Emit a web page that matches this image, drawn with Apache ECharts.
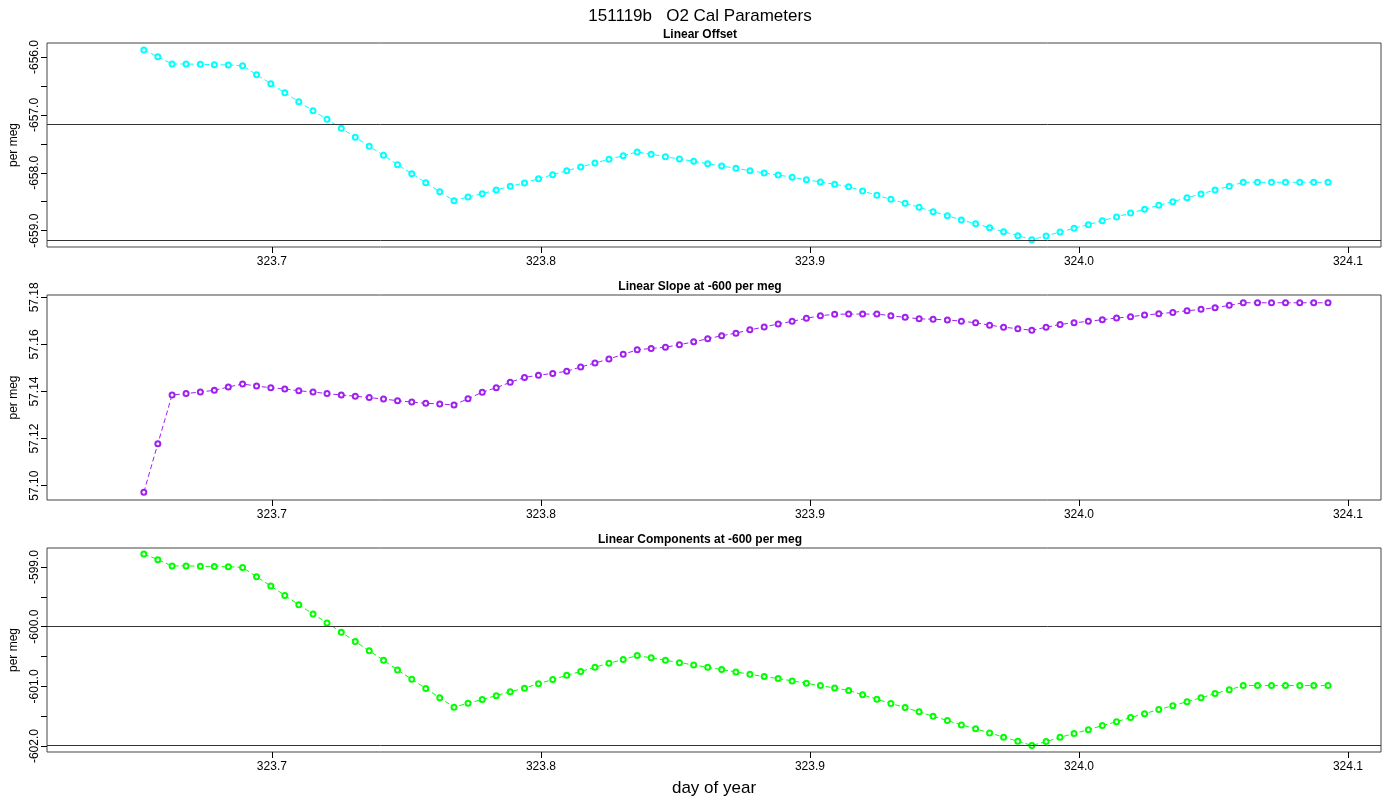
<!DOCTYPE html>
<html><head><meta charset="utf-8">
<script src="https://cdn.jsdelivr.net/npm/echarts@6/dist/echarts.min.js"></script>
<style>html,body{margin:0;padding:0;background:#fff}#c{width:1400px;height:800px}</style>
</head><body><div id="c"></div>
<script>
const days = [323.6524,323.6576,323.6629,323.6681,323.6734,323.6786,323.6838,323.6891,323.6943,323.6996,
323.7048,323.7100,323.7153,323.7205,323.7258,323.7310,323.7362,323.7415,323.7467,323.7520,
323.7572,323.7624,323.7677,323.7729,323.7782,323.7834,323.7886,323.7939,323.7991,323.8044,
323.8096,323.8148,323.8201,323.8253,323.8306,323.8358,323.8410,323.8463,323.8515,323.8568,
323.8620,323.8672,323.8725,323.8777,323.8830,323.8882,323.8934,323.8987,323.9039,323.9092,
323.9144,323.9196,323.9249,323.9301,323.9354,323.9406,323.9458,323.9511,323.9563,323.9616,
323.9668,323.9720,323.9773,323.9825,323.9878,323.9930,323.9982,324.0035,324.0087,324.0140,
324.0192,324.0244,324.0297,324.0349,324.0402,324.0454,324.0506,324.0559,324.0611,324.0664,
324.0716,324.0768,324.0821,324.0873,324.0926];
const linearOffset = [-655.879,-655.995,-656.121,-656.121,-656.126,-656.133,-656.138,-656.150,-656.306,-656.461,
-656.617,-656.772,-656.927,-657.076,-657.231,-657.387,-657.542,-657.698,-657.860,-658.016,
-658.171,-658.326,-658.482,-658.418,-658.361,-658.297,-658.233,-658.176,-658.102,-658.033,
-657.964,-657.900,-657.831,-657.767,-657.705,-657.641,-657.680,-657.722,-657.762,-657.801,
-657.843,-657.883,-657.922,-657.964,-658.003,-658.038,-658.078,-658.119,-658.159,-658.199,
-658.240,-658.314,-658.389,-658.458,-658.527,-658.596,-658.672,-658.741,-658.815,-658.879,
-658.948,-659.017,-659.086,-659.155,-659.092,-659.022,-658.959,-658.896,-658.827,-658.763,
-658.694,-658.630,-658.561,-658.499,-658.430,-658.366,-658.297,-658.233,-658.164,-658.164,
-658.164,-658.164,-658.164,-658.164,-658.164];
const linearSlope = [57.0972,57.1178,57.1385,57.1391,57.1398,57.1405,57.1419,57.1432,57.1423,57.1416,
57.1411,57.1403,57.1398,57.1391,57.1385,57.1380,57.1374,57.1368,57.1361,57.1355,
57.1350,57.1347,57.1343,57.1369,57.1397,57.1416,57.1439,57.1460,57.1469,57.1477,
57.1486,57.1504,57.1521,57.1538,57.1558,57.1577,57.1583,57.1588,57.1599,57.1611,
57.1624,57.1637,57.1648,57.1662,57.1674,57.1687,57.1698,57.1711,57.1722,57.1728,
57.1729,57.1729,57.1729,57.1722,57.1715,57.1709,57.1707,57.1704,57.1699,57.1692,
57.1682,57.1673,57.1667,57.1660,57.1673,57.1685,57.1692,57.1698,57.1705,57.1712,
57.1718,57.1725,57.1730,57.1736,57.1743,57.1749,57.1756,57.1766,57.1777,57.1777,
57.1777,57.1777,57.1777,57.1777,57.1777];
const linearComponents = [-598.782,-598.877,-598.982,-598.982,-598.986,-598.992,-598.996,-599.007,-599.164,-599.319,
-599.476,-599.632,-599.787,-599.937,-600.092,-600.249,-600.405,-600.561,-600.724,-600.880,
-601.036,-601.191,-601.348,-601.281,-601.221,-601.155,-601.089,-601.030,-600.955,-600.885,
-600.815,-600.750,-600.679,-600.613,-600.549,-600.483,-600.522,-600.563,-600.602,-600.640,
-600.681,-600.719,-600.757,-600.798,-600.836,-600.869,-600.908,-600.948,-600.987,-601.026,
-601.067,-601.141,-601.216,-601.286,-601.355,-601.425,-601.501,-601.571,-601.645,-601.710,
-601.780,-601.850,-601.919,-601.989,-601.925,-601.853,-601.790,-601.726,-601.656,-601.592,
-601.522,-601.457,-601.388,-601.325,-601.256,-601.191,-601.121,-601.056,-600.986,-600.986,
-600.986,-600.986,-600.986,-600.986,-600.986];
const xTicks = [323.7,323.8,323.9,324.0,324.1];
const y1Labels = [-659,-658,-657,-656], y1Ticks = [-659,-658.5,-658,-657.5,-657,-656.5,-656];
const y2Ticks = [57.10,57.12,57.14,57.16,57.18];
const y3Labels = [-602,-601,-600,-599], y3Ticks = [-602,-601.5,-601,-600.5,-600,-599.5,-599];
const hlines1 = [-657.157,-659.158], hlines2 = [57.0943], hlines3 = [-600.0,-601.98];
const panelTitles = ['Linear Offset','Linear Slope at -600 per meg','Linear Components at -600 per meg'];

const grids = [{top:43,height:204},{top:295,height:205},{top:548,height:204}];
const yr = [[-659.282,-655.758],[57.0939,57.181],[-602.099,-598.682]];
const font = 'Liberation Sans, Arial, sans-serif';
const option = {
  animation:false,
  title:[{text:'151119b   O2 Cal Parameters',left:'center',top:3,textStyle:{fontFamily:font,fontSize:17,fontWeight:'normal',color:'#000'}}]
    .concat(panelTitles.map((t,i)=>({text:t,left:'center',top:grids[i].top-19,textStyle:{fontFamily:font,fontSize:12,fontWeight:'bold',color:'#000'}}))),
  grid:grids.map(g=>({left:47,width:1334,top:g.top,height:g.height,show:true,borderColor:'#444',borderWidth:1,backgroundColor:'transparent',containLabel:false,outerBoundsMode:'none'})),
  xAxis:grids.map((g,i)=>({type:'value',gridIndex:i,min:323.6164,max:324.1123,
    name:i===2?'day of year':'',nameLocation:'middle',nameGap:28,nameTextStyle:{fontFamily:font,fontSize:17,color:'#000'},
    axisLine:{show:false},splitLine:{show:false},
    axisTick:{show:true,length:6,customValues:xTicks,lineStyle:{color:'#000'}},
    axisLabel:{customValues:xTicks,formatter:v=>v.toFixed(1),fontFamily:font,fontSize:12,color:'#000',margin:9}})),
  yAxis:[0,1,2].map(i=>({type:'value',gridIndex:i,min:yr[i][0],max:yr[i][1],
    name:'per meg',nameLocation:'middle',nameGap:27,nameRotate:90,nameTextStyle:{fontFamily:font,fontSize:12,color:'#000'},
    axisLine:{show:false},splitLine:{show:false},
    axisTick:{show:true,length:6,customValues:[y1Ticks,y2Ticks,y3Ticks][i],lineStyle:{color:'#000'}},
    axisLabel:{customValues:[y1Labels,y2Ticks,y3Labels][i],rotate:90,formatter:v=>i===1?v.toFixed(2):v.toFixed(1),fontFamily:font,fontSize:12,color:'#000',margin:6}})),
  series:[[linearOffset,'#00FFFF',hlines1],[linearSlope,'#A020F0',hlines2],[linearComponents,'#00FF00',hlines3]].map((s,i)=>({
    type:'line',xAxisIndex:i,yAxisIndex:i,data:days.map((d,k)=>[d,s[0][k]]),
    symbol:'emptyCircle',symbolSize:5,showSymbol:true,showAllSymbol:true,
    lineStyle:{color:s[1],width:1,type:[5,3]},itemStyle:{color:s[1],borderColor:s[1],borderWidth:0.9},
    markLine:{silent:true,symbol:'none',label:{show:false},lineStyle:{color:'#333',width:1,type:'solid'},data:s[2].map(v=>({yAxis:v}))}
  }))
};
echarts.init(document.getElementById('c')).setOption(option);
</script></body></html>
